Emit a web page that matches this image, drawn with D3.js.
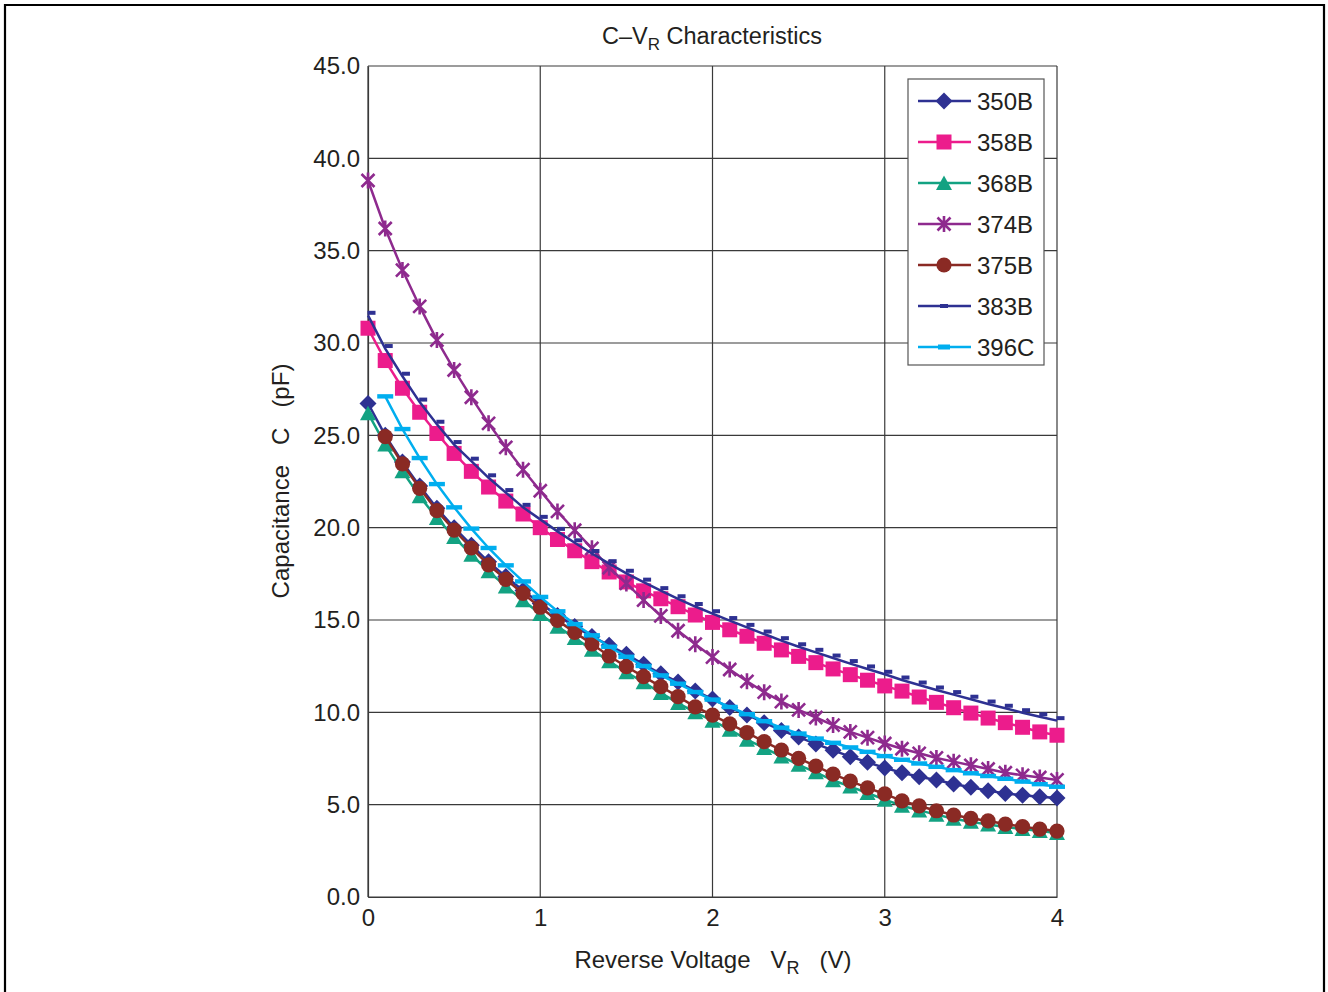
<!DOCTYPE html>
<html>
<head>
<meta charset="utf-8">
<script src="https://cdn.jsdelivr.net/npm/d3@7"></script>
<style>
  html, body { margin: 0; padding: 0; background: #fff; }
  svg { display: block; }
  text { font-family: "Liberation Sans", Arial, Helvetica, sans-serif; fill: #231f20; }
</style>
</head>
<body>
<svg id="chart" width="1328" height="992"></svg>
<script>
// Reverse voltage steps (V)
const voltage = [0.0, 0.1, 0.2, 0.3, 0.4, 0.5, 0.6, 0.7, 0.8, 0.9,
                 1.0, 1.1, 1.2, 1.3, 1.4, 1.5, 1.6, 1.7, 1.8, 1.9,
                 2.0, 2.1, 2.2, 2.3, 2.4, 2.5, 2.6, 2.7, 2.8, 2.9,
                 3.0, 3.1, 3.2, 3.3, 3.4, 3.5, 3.6, 3.7, 3.8, 3.9, 4.0];

// Capacitance per device (pF); null = not measured
const c350B = [26.73, 25.0, 23.55, 22.25, 21.05, 20.0, 19.05, 18.15, 17.35, 16.6,
               15.9, 15.25, 14.65, 14.11, 13.63, 13.14, 12.6, 12.09, 11.64, 11.16,
               10.72, 10.26, 9.86, 9.44, 9.02, 8.66, 8.29, 7.94, 7.6, 7.3,
               6.99, 6.73, 6.51, 6.34, 6.12, 5.94, 5.76, 5.61, 5.51, 5.43, 5.36];
const c358B = [30.8, 29.05, 27.55, 26.25, 25.1, 24.02, 23.05, 22.2, 21.44, 20.74,
               20.0, 19.36, 18.75, 18.16, 17.6, 17.06, 16.58, 16.15, 15.72, 15.27,
               14.87, 14.47, 14.12, 13.74, 13.38, 13.03, 12.69, 12.35, 12.04, 11.74,
               11.43, 11.15, 10.83, 10.54, 10.25, 9.96, 9.69, 9.44, 9.19, 8.94, 8.76];
const c368B = [26.2, 24.5, 23.05, 21.7, 20.52, 19.49, 18.54, 17.64, 16.82, 16.07,
               15.33, 14.64, 14.03, 13.39, 12.76, 12.17, 11.63, 11.05, 10.5, 10.0,
               9.55, 9.06, 8.52, 8.07, 7.61, 7.16, 6.75, 6.32, 5.98, 5.63,
               5.27, 4.94, 4.69, 4.46, 4.24, 4.08, 3.92, 3.79, 3.68, 3.57, 3.47];
const c374B = [38.8, 36.2, 33.95, 31.98, 30.16, 28.54, 27.06, 25.65, 24.35, 23.14,
               22.0, 20.88, 19.86, 18.88, 17.83, 16.98, 16.08, 15.22, 14.42, 13.69,
               12.99, 12.32, 11.68, 11.09, 10.58, 10.13, 9.72, 9.31, 8.94, 8.63,
               8.31, 8.03, 7.78, 7.53, 7.33, 7.13, 6.93, 6.73, 6.59, 6.47, 6.34];
const c375B = [null, 24.93, 23.45, 22.13, 20.92, 19.87, 18.9, 17.99, 17.2, 16.44,
               15.69, 14.98, 14.33, 13.7, 13.05, 12.47, 11.93, 11.39, 10.85, 10.3,
               9.85, 9.37, 8.9, 8.41, 7.96, 7.51, 7.09, 6.65, 6.27, 5.91,
               5.58, 5.21, 4.93, 4.67, 4.44, 4.26, 4.12, 3.95, 3.81, 3.68, 3.57];
const c383B = [31.5, 29.7, 28.2, 26.8, 25.6, 24.5, 23.6, 22.7, 21.9, 21.1,
               20.45, 19.8, 19.18, 18.6, 18.05, 17.53, 17.05, 16.59, 16.15, 15.73,
               15.34, 14.97, 14.6, 14.24, 13.88, 13.55, 13.25, 12.94, 12.64, 12.35,
               12.06, 11.75, 11.48, 11.21, 10.96, 10.71, 10.45, 10.22, 9.98, 9.76, 9.55];
const c396C = [null, 27.11, 25.34, 23.77, 22.36, 21.1, 19.95, 18.9, 17.96, 17.09,
               16.25, 15.47, 14.78, 14.17, 13.55, 13.01, 12.51, 12.0, 11.55, 11.1,
               10.69, 10.29, 9.9, 9.52, 9.17, 8.85, 8.58, 8.35, 8.1, 7.86,
               7.63, 7.43, 7.23, 7.05, 6.87, 6.7, 6.55, 6.4, 6.25, 6.11, 5.97];

const seriesNames = ["350B", "358B", "368B", "374B", "375B", "383B", "396C"];
const seriesValues = [c350B, c358B, c368B, c374B, c375B, c383B, c396C];

const yTicks = [0, 5, 10, 15, 20, 25, 30, 35, 40, 45];
const xTicks = [0, 1, 2, 3, 4];

// Appearance for each device
const styles = {
  "350B": { color: "#2e3192", marker: "diamond" },
  "358B": { color: "#ec1c8c", marker: "square" },
  "368B": { color: "#13a282", marker: "triangle" },
  "374B": { color: "#8e2a8e", marker: "star" },
  "375B": { color: "#8a2a24", marker: "circle" },
  "383B": { color: "#2e3192", marker: "dash" },
  "396C": { color: "#00aeef", marker: "bar" }
};

const FONT = 24;
const svg = d3.select("#chart");

// outer frame (top, left, right)
svg.append("path")
  .attr("d", "M5,992 L5,5 L1324,5 L1324,992")
  .attr("fill", "none").attr("stroke", "#000").attr("stroke-width", 2.2);

const plot = { left: 368, right: 1057, top: 66, bottom: 897 };
const x = d3.scaleLinear().domain([0, 4]).range([plot.left, plot.right]);
const y = d3.scaleLinear().domain([0, 45]).range([plot.bottom, plot.top]);

// grid
const grid = svg.append("g");
grid.selectAll("line.h").data(yTicks).join("line")
  .attr("x1", plot.left).attr("x2", plot.right)
  .attr("y1", d => y(d)).attr("y2", d => y(d))
  .attr("stroke", "#3a3a3a").attr("stroke-width", 1.2);
grid.selectAll("line.v").data(xTicks).join("line")
  .attr("y1", plot.top).attr("y2", plot.bottom)
  .attr("x1", d => x(d)).attr("x2", d => x(d))
  .attr("stroke", "#3a3a3a").attr("stroke-width", 1.2);

// axes (labels only, no tick marks)
const yAxis = d3.axisLeft(y).tickValues(yTicks).tickFormat(d3.format(".1f")).tickSize(0).tickPadding(8);
const xAxis = d3.axisBottom(x).tickValues(xTicks).tickFormat(d3.format("d")).tickSize(0).tickPadding(12);
const gy = svg.append("g").attr("transform", `translate(${plot.left},0)`).call(yAxis);
const gx = svg.append("g").attr("transform", `translate(0,${plot.bottom})`).call(xAxis);
[gx, gy].forEach(g => {
  g.select(".domain").attr("stroke", "#3a3a3a").attr("stroke-width", 1.2);
  g.selectAll("text").attr("font-size", FONT).attr("fill", "#231f20")
    .style("font-family", "'Liberation Sans', Arial, sans-serif");
});

// markers
function drawMarker(sel, kind, color) {
  if (kind === "diamond") {
    sel.append("path").attr("d", "M0,-8.5 L8.5,0 L0,8.5 L-8.5,0Z").attr("fill", color);
  } else if (kind === "square") {
    sel.append("rect").attr("x", -7.5).attr("y", -7.5).attr("width", 15).attr("height", 15).attr("fill", color);
  } else if (kind === "triangle") {
    sel.append("path").attr("d", "M0,-7.5 L8,7 L-8,7Z").attr("fill", color);
  } else if (kind === "circle") {
    sel.append("circle").attr("r", 7.6).attr("fill", color);
  } else if (kind === "star") {
    sel.append("path").attr("d", "M-6.5,-6.5 L6.5,6.5 M-6.5,6.5 L6.5,-6.5 M0,-8 L0,8")
      .attr("stroke", color).attr("stroke-width", 2.6).attr("fill", "none");
  } else if (kind === "dash") {
    sel.append("rect").attr("x", -0.5).attr("y", -4.5).attr("width", 8).attr("height", 4).attr("fill", color);
  } else if (kind === "bar") {
    sel.append("rect").attr("x", -8).attr("y", -2.2).attr("width", 16).attr("height", 4.4).attr("fill", color);
  }
}

const line = d3.line()
  .defined(d => d.c !== null)
  .x(d => x(d.v)).y(d => y(d.c));

const layer = svg.append("g");
seriesNames.forEach((name, i) => {
  const st = styles[name];
  const pts = voltage.map((v, k) => ({ v, c: seriesValues[i][k] }));
  const g = layer.append("g");
  g.append("path").datum(pts).attr("d", line)
    .attr("fill", "none").attr("stroke", st.color).attr("stroke-width", 2.5);
  g.selectAll("g.m").data(pts.filter(d => d.c !== null)).join("g")
    .attr("transform", d => `translate(${x(d.v)},${y(d.c)})`)
    .each(function () { drawMarker(d3.select(this), st.marker, st.color); });
});

// legend
const lg = svg.append("g");
lg.append("rect").attr("x", 908).attr("y", 79).attr("width", 136).attr("height", 286)
  .attr("fill", "#fff").attr("stroke", "#555").attr("stroke-width", 1.2);
seriesNames.forEach((name, i) => {
  const st = styles[name];
  const cy = 101 + i * 41;
  const row = lg.append("g");
  row.append("line").attr("x1", 918).attr("x2", 971).attr("y1", cy).attr("y2", cy)
    .attr("stroke", st.color).attr("stroke-width", 2.5);
  const mg = row.append("g").attr("transform", `translate(944,${cy})`);
  if (st.marker === "dash") {
    mg.append("rect").attr("x", -4).attr("y", -2).attr("width", 8).attr("height", 4).attr("fill", st.color);
  } else if (st.marker === "bar") {
    mg.append("rect").attr("x", -6).attr("y", -2.5).attr("width", 12).attr("height", 5).attr("fill", st.color);
  } else {
    drawMarker(mg, st.marker, st.color);
  }
  row.append("text").attr("x", 977).attr("y", cy + 8.5).attr("font-size", FONT).text(name);
});

// title
const title = svg.append("text").attr("x", 712).attr("y", 44).attr("text-anchor", "middle").attr("font-size", 23.5);
title.append("tspan").text("C\u2013V");
title.append("tspan").attr("dy", 6).attr("font-size", 17).text("R");
title.append("tspan").attr("dy", -6).text(" Characteristics");

// x-axis title
const xt = svg.append("text").attr("x", 713).attr("y", 968).attr("text-anchor", "middle").attr("font-size", FONT)
  .attr("xml:space", "preserve");
xt.append("tspan").text("Reverse Voltage   V");
xt.append("tspan").attr("dy", 6).attr("font-size", 18).text("R");
xt.append("tspan").attr("dy", -6).text("   (V)");

// y-axis title
svg.append("text").attr("transform", "translate(289,481) rotate(-90)")
  .attr("text-anchor", "middle").attr("font-size", FONT).attr("xml:space", "preserve")
  .text("Capacitance   C   (pF)");
</script>
</body>
</html>
